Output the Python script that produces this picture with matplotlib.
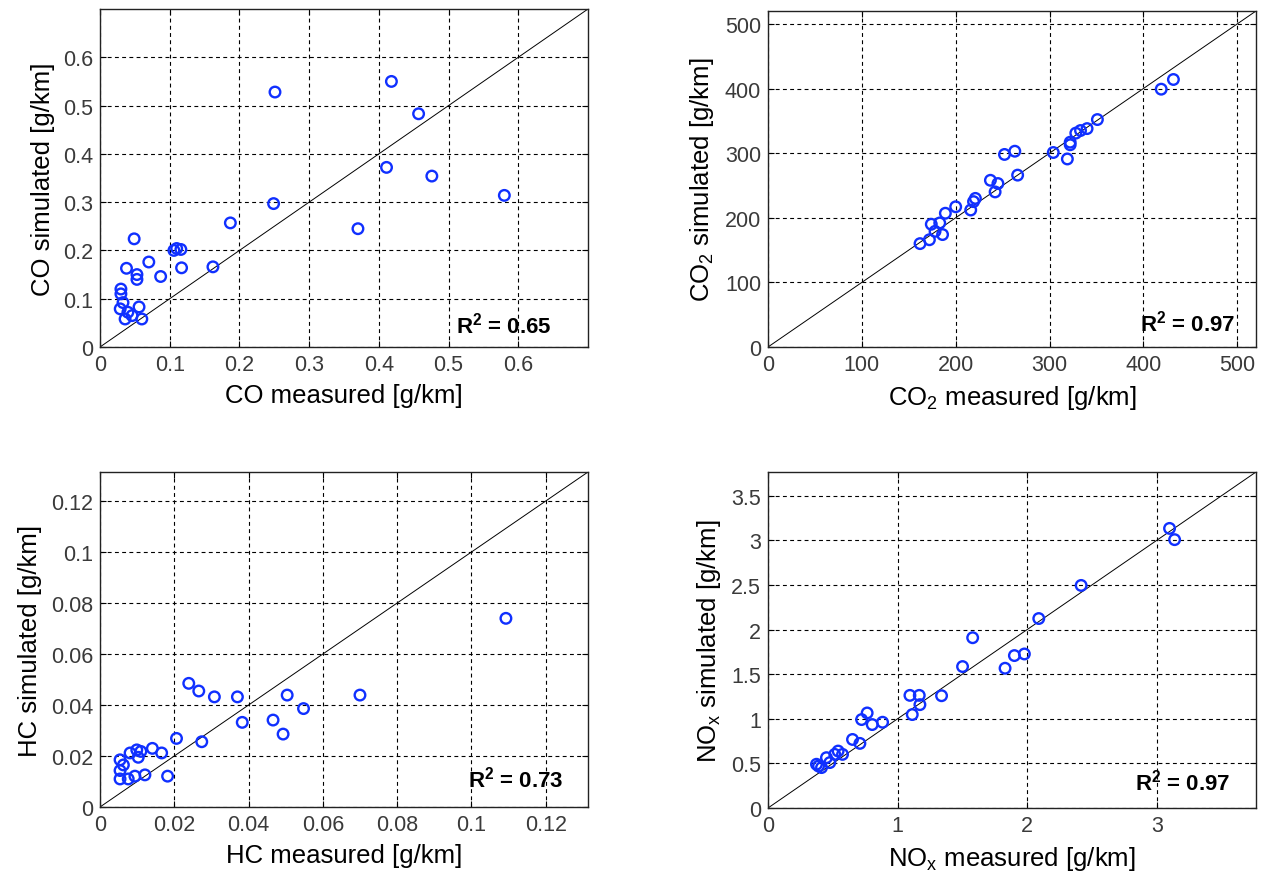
import matplotlib
matplotlib.use("Agg")
from matplotlib import pyplot as plt
from matplotlib.ticker import FuncFormatter

plt.rcParams['font.family'] = ['Liberation Sans', 'DejaVu Sans']
plt.rcParams['mathtext.default'] = 'regular'

# CO [g/km]
co_meas = [0.251, 0.418, 0.457, 0.411, 0.476, 0.580, 0.249, 0.370, 0.187, 0.162, 0.049,
           0.106, 0.110, 0.116, 0.117, 0.070, 0.087, 0.038, 0.053, 0.053, 0.030, 0.030,
           0.033, 0.029, 0.056, 0.040, 0.036, 0.046, 0.060]
co_sim = [0.528, 0.550, 0.483, 0.372, 0.354, 0.314, 0.297, 0.245, 0.257, 0.166, 0.224,
          0.200, 0.204, 0.202, 0.164, 0.176, 0.146, 0.163, 0.150, 0.140, 0.120, 0.110,
          0.092, 0.079, 0.083, 0.072, 0.058, 0.065, 0.058]

# CO2 [g/km]
co2_meas = [162, 172, 186, 174, 183, 178, 189, 200, 216, 219, 221, 237, 245, 242, 266,
            252, 263, 304, 319, 322, 322, 328, 333, 340, 351, 419, 432]
co2_sim = [160, 166, 174, 190, 192, 179, 207, 217, 212, 225, 230, 258, 253, 240, 266,
           298, 303, 301, 291, 313, 317, 331, 335, 338, 352, 399, 414]

# HC [g/km]
hc_meas = [0.0054, 0.0063, 0.0081, 0.0099, 0.0103, 0.0054, 0.0054, 0.0076, 0.0094, 0.0121,
           0.0141, 0.0166, 0.0182, 0.0206, 0.0274, 0.0239, 0.0266, 0.0308, 0.0370, 0.0383,
           0.0466, 0.0493, 0.0504, 0.0548, 0.0700, 0.1093, 0.0110]
hc_sim = [0.0185, 0.0165, 0.0212, 0.0224, 0.0195, 0.0143, 0.0110, 0.0110, 0.0121, 0.0126,
          0.0230, 0.0212, 0.0121, 0.0269, 0.0256, 0.0485, 0.0455, 0.0432, 0.0432, 0.0332,
          0.0341, 0.0286, 0.0439, 0.0386, 0.0439, 0.0740, 0.0218]

# NOx [g/km]
nox_meas = [0.374, 0.413, 0.451, 0.477, 0.515, 0.541, 0.575, 0.652, 0.709, 0.722, 0.765,
            0.804, 0.884, 1.095, 1.113, 1.167, 1.172, 1.339, 1.501, 1.579, 1.829, 1.901,
            1.978, 2.089, 2.416, 3.098, 3.137, 0.390]
nox_sim = [0.490, 0.453, 0.564, 0.509, 0.601, 0.638, 0.601, 0.768, 0.724, 0.991, 1.065,
           0.935, 0.961, 1.262, 1.047, 1.262, 1.158, 1.258, 1.585, 1.908, 1.566, 1.708,
           1.726, 2.123, 2.494, 3.133, 3.007, 0.470]

r2_vals = ['0.65', '0.97', '0.73', '0.97']

W, H = 1264, 879
fig = plt.figure(figsize=(W / 100, H / 100), dpi=100)


def kutu(l, t, r, b):
    # piksel kutusunu figure oranina cevir
    return [l / W, 1 - b / H, (r - l) / W, (b - t) / H]


def ciz(pos, x, y, lim, ticks, xlab, ylab, r2, r2pos):
    ax = fig.add_axes(kutu(*pos))
    ax.plot([0, lim], [0, lim], color='black', lw=0.7, zorder=2)
    ax.scatter(x, y, s=58, facecolors='none', edgecolors='#1030ff', linewidths=1.7, zorder=3)
    ax.set_xlim(0, lim)
    ax.set_ylim(0, lim)
    ax.set_xticks(ticks[0])
    ax.set_yticks(ticks[1])
    fmt = FuncFormatter(lambda v, p: '%g' % round(v, 6))
    ax.xaxis.set_major_formatter(fmt)
    ax.yaxis.set_major_formatter(fmt)
    ax.grid(True, color='black', linestyle=(0, (3.5, 3)), lw=0.8)
    ax.set_axisbelow(True)
    ax.tick_params(direction='in', top=True, right=True, length=4, width=0.8,
                   labelsize=15.5, labelcolor='#3a3a3a', pad=5)
    for s in ax.spines.values():
        s.set_linewidth(1.0)
        s.set_color('#222222')
    ax.set_xlabel(xlab, fontsize=18.5, labelpad=6)
    ax.set_ylabel(ylab, fontsize=18.5, labelpad=6)
    ax.text(r2pos[0], r2pos[1], r'R$^2$ = ' + r2, transform=ax.transAxes,
            ha='right', va='baseline', fontsize=16, fontweight='bold', zorder=4)
    return ax


t1 = [0, 0.1, 0.2, 0.3, 0.4, 0.5, 0.6]
ciz((100, 10, 588, 348), co_meas, co_sim, 0.7, (t1, t1),
    'CO measured [g/km]', 'CO simulated [g/km]', r2_vals[0], (0.926, 0.044))

t2 = [0, 100, 200, 300, 400, 500]
ciz((768, 12, 1256, 348), co2_meas, co2_sim, 520, (t2, t2),
    'CO$_2$ measured [g/km]', 'CO$_2$ simulated [g/km]', r2_vals[1], (0.957, 0.05))

t3 = [0, 0.02, 0.04, 0.06, 0.08, 0.1, 0.12]
ciz((100, 473, 588, 808), hc_meas, hc_sim, 0.1314, (t3, t3),
    'HC measured [g/km]', 'HC simulated [g/km]', r2_vals[2], (0.95, 0.061))

ciz((768, 473, 1256, 809), nox_meas, nox_sim, 3.765, ([0, 1, 2, 3], [0, 0.5, 1, 1.5, 2, 2.5, 3, 3.5]),
    'NO$_x$ measured [g/km]', 'NO$_x$ simulated [g/km]', r2_vals[3], (0.948, 0.054))

fig.savefig('out.png', dpi=100)
